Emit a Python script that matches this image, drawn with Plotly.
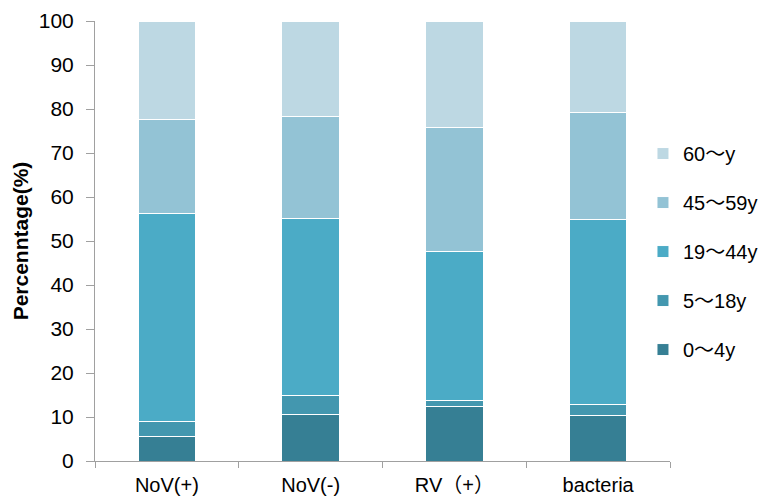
import plotly.graph_objects as go

categories = ["NoV(+)", "NoV(-)", "RV（+）", "bacteria"]
age_groups = ["0～4y", "5～18y", "19～44y", "45～59y", "60～y"]
v_0_4 = [5.5, 10.6, 12.5, 10.4]
v_5_18 = [3.4, 4.2, 1.3, 2.5]
v_19_44 = [47.3, 40.4, 33.9, 41.9]
v_45_59 = [21.5, 23.2, 28.2, 24.5]
v_60 = [22.3, 21.6, 24.1, 20.7]
colors = ["#367F94", "#4397AF", "#4BABC6", "#93C3D5", "#BDD8E3"]

series = [v_0_4, v_5_18, v_19_44, v_45_59, v_60]

fig = go.Figure()
for i, (name, vals, col) in enumerate(zip(age_groups, series, colors)):
    fig.add_trace(go.Bar(
        x=categories, y=vals, name=name, legendgroup=name,
        legendrank=1000 - i,
        marker=dict(color=col, line=dict(color="white", width=1)),
        width=0.40,
    ))

font_main = "Liberation Sans, Arial, Noto Sans CJK JP, sans-serif"
fig.update_layout(
    barmode="stack",
    width=772, height=502,
    margin=dict(l=87, r=110, t=13, b=49, autoexpand=False),
    paper_bgcolor="white", plot_bgcolor="white",
    font=dict(family=font_main, size=20, color="black"),
    legend=dict(
        x=0.953, xanchor="left", y=0.476, yanchor="middle",
        traceorder="grouped", tracegroupgap=20,
        font=dict(size=20), itemwidth=30, bgcolor="rgba(0,0,0,0)",
    ),
    xaxis=dict(
        showline=True, linecolor="#A0A0A0", linewidth=1,
        ticks="outside", tickson="boundaries", ticklen=6, tickcolor="#A0A0A0",
        tickfont=dict(size=20), ticklabelstandoff=6,
    ),
    yaxis=dict(
        range=[0, 100], dtick=10, showgrid=False, zeroline=False,
        showline=True, linecolor="#A0A0A0", linewidth=1,
        ticks="outside", ticklen=8, tickcolor="#A0A0A0",
        tickfont=dict(size=21), ticklabelstandoff=8,
        title=dict(text="<b>Percenntage(%)</b>", font=dict(size=21), standoff=4),
    ),
)
fig.write_html("out.html")
